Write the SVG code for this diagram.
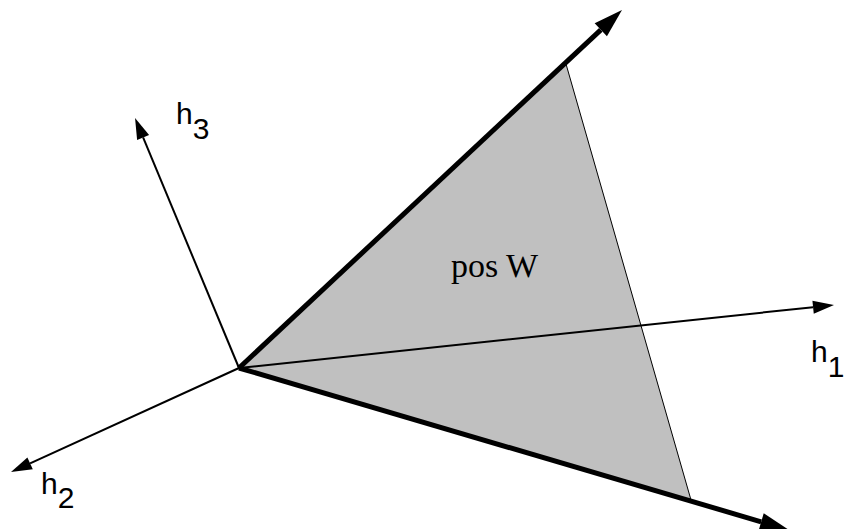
<svg xmlns="http://www.w3.org/2000/svg" width="844" height="529" viewBox="0 0 844 529">
  <style>
    .thin { stroke: #000; stroke-width: 2; fill: none; }
    .thick { stroke: #000; stroke-width: 5; fill: none; }
    .lbl { font-family: "Liberation Sans", Arial, sans-serif; font-size: 30px; fill: #000; }
    .ser { font-family: "Liberation Serif", "Times New Roman", serif; font-size: 34px; fill: #000; }
  </style>
  <defs>
    <marker id="ah-thin" markerUnits="userSpaceOnUse" markerWidth="24" markerHeight="16" refX="0" refY="7" orient="auto" overflow="visible">
      <path d="M0,0.5 L21,7 L0,13.5 z" fill="#000"/>
    </marker>
    <marker id="ah-thick" markerUnits="userSpaceOnUse" markerWidth="32" markerHeight="20" refX="0" refY="9.5" orient="auto" overflow="visible">
      <path d="M0,0.5 L29,9.5 L0,18.5 z" fill="#000"/>
    </marker>
  </defs>
  <g id="region-posW">
    <polygon points="239,368 566,64 691,500" fill="#c0c0c0"/>
    <line x1="566" y1="64" x2="691" y2="500" stroke="#000" stroke-width="1"/>
    <text class="ser" x="451" y="277">pos W</text>
  </g>
  <g id="connectors">
    <line id="axis-h1" class="thin" x1="239" y1="368" x2="813.1" y2="307.2" marker-end="url(#ah-thin)"/>
    <line id="axis-h2" class="thin" x1="239" y1="368" x2="30.1" y2="463.3" marker-end="url(#ah-thin)"/>
    <line id="axis-h3" class="thin" x1="239" y1="368" x2="143.1" y2="137.4" marker-end="url(#ah-thin)"/>
    <line id="ray-top" class="thick" x1="239" y1="368" x2="600.8" y2="29.8" marker-end="url(#ah-thick)"/>
    <line id="ray-bottom" class="thick" x1="239" y1="368" x2="761.2" y2="521.8" marker-end="url(#ah-thick)"/>
  </g>
  <g id="label-h1"><text class="lbl" x="811" y="362">h<tspan dy="15">1</tspan></text></g>
  <g id="label-h2"><text class="lbl" x="41" y="494">h<tspan dy="14">2</tspan></text></g>
  <g id="label-h3"><text class="lbl" x="176" y="124">h<tspan dy="15">3</tspan></text></g>
</svg>
